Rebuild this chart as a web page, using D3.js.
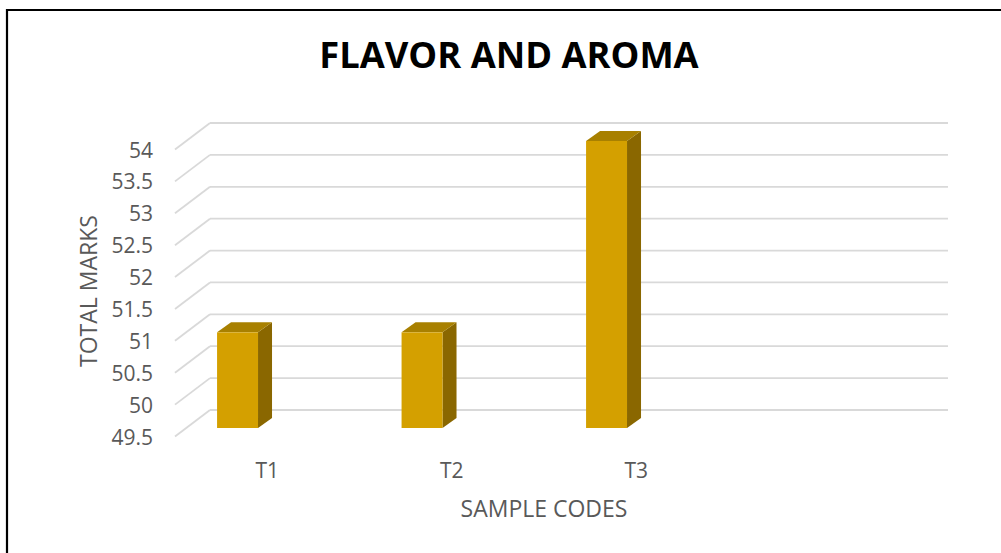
<!DOCTYPE html>
<html><head><meta charset="utf-8">
<script src="https://cdn.jsdelivr.net/npm/d3@7"></script>
<style>html,body{margin:0;padding:0;background:#fff;overflow:hidden}</style>
</head><body>
<svg id="c" width="1001" height="553"></svg>
<script>
const categories = ["T1", "T2", "T3", ""];
const values = [51, 51, 54];
const tickValues = [49.5, 50, 50.5, 51, 51.5, 52, 52.5, 53, 53.5, 54];
const chartTitle = "FLAVOR AND AROMA";
const xTitle = "SAMPLE CODES";
const yTitle = "TOTAL MARKS";

const svg = d3.select("#c");
const font = "'Open Sans', 'Liberation Sans', sans-serif";

// frame
svg.append("path").attr("d", "M7,560 L7,10 L1010,10")
  .attr("fill", "none").attr("stroke", "#000").attr("stroke-width", 2.2);

const depthX = 35, depthY = 26.5;
const backLeft = 210, backRight = 948;
const yBack = d3.scaleLinear().domain([49.5, 54]).range([410, 123]);
const x = d3.scaleBand().domain(categories).range([backLeft - depthX, backRight - depthX]).paddingInner(0);
const barShift = 18; // vertical offset of bar front plane from back wall

// gridlines
const g = svg.append("g");
tickValues.forEach(v => {
  g.append("line").attr("x1", backLeft).attr("x2", backRight)
    .attr("y1", yBack(v)).attr("y2", yBack(v))
    .attr("stroke", "#d9d9d9").attr("stroke-width", 1.8);
  g.append("line").attr("x1", backLeft - depthX).attr("y1", yBack(v) + depthY)
    .attr("x2", backLeft).attr("y2", yBack(v))
    .attr("stroke", "#d9d9d9").attr("stroke-width", 1.8);
  svg.append("text").attr("x", 153).attr("y", yBack(v) + depthY)
    .attr("text-anchor", "end").attr("dominant-baseline", "central")
    .attr("font-family", font).attr("font-size", 21).attr("fill", "#595959")
    .text(v);
});

// bars
const bw = x.bandwidth();
const bdx = 14, bdy = 10;
values.forEach((v, i) => {
  const c = categories[i];
  const x0 = x(c) + bw * 0.228, x1 = x0 + bw * 0.222;
  const yt = yBack(v) + barShift, yb = yBack(49.5) + barShift;
  svg.append("polygon").attr("points", [[x1, yt], [x1 + bdx, yt - bdy], [x1 + bdx, yb - bdy], [x1, yb]].join(" "))
    .attr("fill", "#8a6700");
  svg.append("polygon").attr("points", [[x0, yt], [x1, yt], [x1 + bdx, yt - bdy], [x0 + bdx, yt - bdy]].join(" "))
    .attr("fill", "#a88000");
  svg.append("rect").attr("x", x0).attr("y", yt).attr("width", x1 - x0).attr("height", yb - yt)
    .attr("fill", "#d4a000");
});

// category labels
categories.forEach(c => {
  if (!c) return;
  svg.append("text").attr("x", x(c) + bw / 2).attr("y", 470)
    .attr("text-anchor", "middle").attr("dominant-baseline", "central")
    .attr("font-family", font).attr("font-size", 21).attr("fill", "#595959").text(c);
});

// titles
svg.append("text").attr("x", 509).attr("y", 68).attr("text-anchor", "middle")
  .attr("font-family", font).attr("font-weight", "bold").attr("font-size", 36.3).attr("fill", "#000")
  .text(chartTitle);
svg.append("text").attr("x", 544).attr("y", 508).attr("text-anchor", "middle").attr("dominant-baseline", "central")
  .attr("font-family", font).attr("font-size", 23).attr("fill", "#595959").text(xTitle);
svg.append("text").attr("transform", "translate(88,291) rotate(-90)").attr("text-anchor", "middle")
  .attr("dominant-baseline", "central")
  .attr("font-family", font).attr("font-size", 23).attr("fill", "#595959").text(yTitle);
</script>
</body></html>
